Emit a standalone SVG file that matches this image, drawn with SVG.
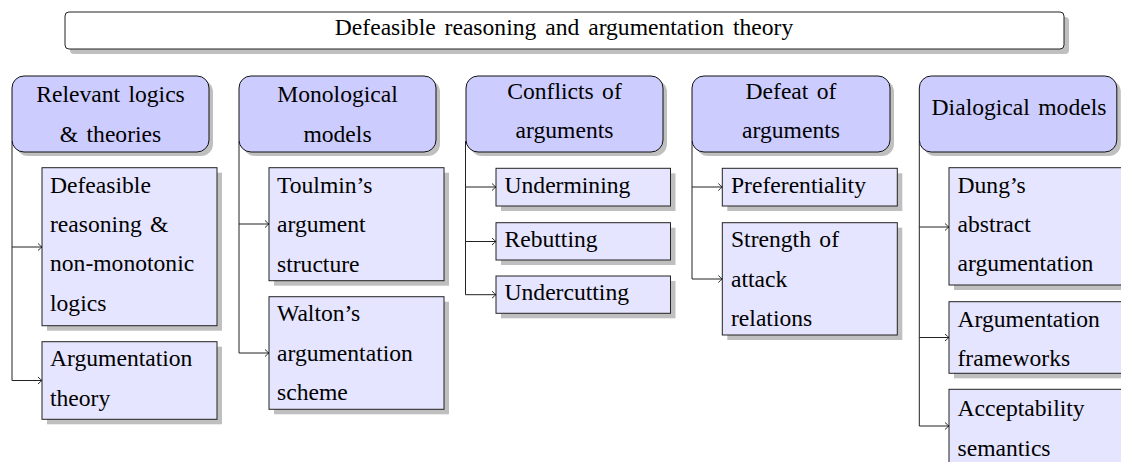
<svg xmlns="http://www.w3.org/2000/svg" width="1121" height="462" viewBox="0 0 1121 462" font-family="'Liberation Serif', 'Times New Roman', serif">
<defs>
<marker id="arr" viewBox="-6 -5 8 10" refX="0" refY="0" markerWidth="8" markerHeight="10" markerUnits="userSpaceOnUse" orient="auto">
<path d="M-4,-3.5 Q-1.2,-0.8 0,0 Q-1.2,0.8 -4,3.5" fill="none" stroke="#111" stroke-width="0.9"/>
</marker>
</defs>
<style>
text{font-family:'Liberation Serif','Times New Roman',serif;font-size:23.6px;fill:#000;word-spacing:2.5px}
.title{word-spacing:3px}
.mid{text-anchor:middle}
.sh{fill:#bfbfbf}
.tbox{fill:#fff;stroke:#222;stroke-width:1}
.cat{fill:#ccccff;stroke:#111;stroke-width:1}
.item{fill:#e5e5ff;stroke:#222;stroke-width:1}
.conn{fill:none;stroke:#222;stroke-width:1}
</style>
<rect width="1121" height="462" fill="#fff"/>

<g id="title">
<rect class="sh" x="70" y="17" width="999" height="37" rx="4"/>
<rect class="tbox" x="65" y="12" width="999" height="37" rx="4"/>
<text class="mid title" x="564" y="35">Defeasible reasoning and argumentation theory</text>
</g>

<g id="connectors">
<path class="conn" d="M12,141 V380.5"/>
<path class="conn" d="M12,247 H42" marker-end="url(#arr)"/>
<path class="conn" d="M12,380.5 H42" marker-end="url(#arr)"/>
<path class="conn" d="M239,141 V353"/>
<path class="conn" d="M239,224 H269" marker-end="url(#arr)"/>
<path class="conn" d="M239,353 H269" marker-end="url(#arr)"/>
<path class="conn" d="M465.5,141 V294.7"/>
<path class="conn" d="M465.5,187 H496" marker-end="url(#arr)"/>
<path class="conn" d="M465.5,241.5 H496" marker-end="url(#arr)"/>
<path class="conn" d="M465.5,294.7 H496" marker-end="url(#arr)"/>
<path class="conn" d="M692,141 V279"/>
<path class="conn" d="M692,187 H722.3" marker-end="url(#arr)"/>
<path class="conn" d="M692,279 H722.3" marker-end="url(#arr)"/>
<path class="conn" d="M919.3,141 V426"/>
<path class="conn" d="M919.3,227 H949" marker-end="url(#arr)"/>
<path class="conn" d="M919.3,337.5 H949" marker-end="url(#arr)"/>
<path class="conn" d="M919.3,426 H949" marker-end="url(#arr)"/>
</g>

<g id="relevant-logics">
<rect class="sh" x="16" y="80" width="197" height="76" rx="12"/>
<rect class="cat" x="12" y="76" width="197" height="76" rx="12"/>
<text class="mid" x="110.5" y="102.3">Relevant logics</text>
<text class="mid" x="110.5" y="141.7">&amp; theories</text>
</g>
<g id="defeasible-reasoning">
<rect class="sh" x="47" y="172.7" width="175" height="158"/>
<rect class="item" x="42" y="167.7" width="175" height="158"/>
<text x="50" y="192.7">Defeasible</text>
<text x="50" y="232">reasoning &amp;</text>
<text x="50" y="271.3">non-monotonic</text>
<text x="50" y="310.8">logics</text>
</g>
<g id="argumentation-theory">
<rect class="sh" x="47" y="346.7" width="175" height="77.6"/>
<rect class="item" x="42" y="341.7" width="175" height="77.6"/>
<text x="50" y="366.2">Argumentation</text>
<text x="50" y="405.5">theory</text>
</g>

<g id="monological-models">
<rect class="sh" x="243" y="80" width="197" height="76" rx="12"/>
<rect class="cat" x="239" y="76" width="197" height="76" rx="12"/>
<text class="mid" x="337.5" y="102.3">Monological</text>
<text class="mid" x="337.5" y="141.7">models</text>
</g>
<g id="toulmin">
<rect class="sh" x="274" y="172.7" width="175" height="113"/>
<rect class="item" x="269" y="167.7" width="175" height="113"/>
<text x="277" y="192.7">Toulmin’s</text>
<text x="277" y="232">argument</text>
<text x="277" y="271.5">structure</text>
</g>
<g id="walton">
<rect class="sh" x="274" y="301.7" width="175" height="112.6"/>
<rect class="item" x="269" y="296.7" width="175" height="112.6"/>
<text x="277" y="321.2">Walton’s</text>
<text x="277" y="360.5">argumentation</text>
<text x="277" y="400">scheme</text>
</g>

<g id="conflicts-of-arguments">
<rect class="sh" x="470" y="80" width="197" height="76" rx="12"/>
<rect class="cat" x="466" y="76" width="197" height="76" rx="12"/>
<text class="mid" x="564.5" y="99">Conflicts of</text>
<text class="mid" x="564.5" y="138.3">arguments</text>
</g>
<g id="undermining">
<rect class="sh" x="501" y="173.3" width="174.5" height="37.7"/>
<rect class="item" x="496" y="168.3" width="174.5" height="37.7"/>
<text x="504.5" y="193.3">Undermining</text>
</g>
<g id="rebutting">
<rect class="sh" x="501" y="227.7" width="174.5" height="37.3"/>
<rect class="item" x="496" y="222.7" width="174.5" height="37.3"/>
<text x="504.5" y="247">Rebutting</text>
</g>
<g id="undercutting">
<rect class="sh" x="501" y="281" width="174.5" height="37.3"/>
<rect class="item" x="496" y="276" width="174.5" height="37.3"/>
<text x="504.5" y="300.3">Undercutting</text>
</g>

<g id="defeat-of-arguments">
<rect class="sh" x="696" y="80" width="198" height="76" rx="12"/>
<rect class="cat" x="692" y="76" width="198" height="76" rx="12"/>
<text class="mid" x="791" y="99">Defeat of</text>
<text class="mid" x="791" y="138.3">arguments</text>
</g>
<g id="preferentiality">
<rect class="sh" x="727.3" y="173.3" width="175" height="37.7"/>
<rect class="item" x="722.3" y="168.3" width="175" height="37.7"/>
<text x="731" y="193.3">Preferentiality</text>
</g>
<g id="strength-of-attack">
<rect class="sh" x="727.3" y="227.7" width="175" height="112.3"/>
<rect class="item" x="722.3" y="222.7" width="175" height="112.3"/>
<text x="731" y="247">Strength of</text>
<text x="731" y="286.5">attack</text>
<text x="731" y="326.3">relations</text>
</g>

<g id="dialogical-models">
<rect class="sh" x="923.3" y="80" width="197.5" height="76" rx="12"/>
<rect class="cat" x="919.3" y="76" width="197.5" height="76" rx="12"/>
<text class="mid" x="1019" y="115">Dialogical models</text>
</g>
<g id="dung">
<rect class="sh" x="954" y="172.7" width="175" height="117.3"/>
<rect class="item" x="949" y="167.7" width="175" height="117.3"/>
<text x="957.5" y="192.7">Dung’s</text>
<text x="957.5" y="232">abstract</text>
<text x="957.5" y="271">argumentation</text>
</g>
<g id="argumentation-frameworks">
<rect class="sh" x="954" y="306.7" width="175" height="71.6"/>
<rect class="item" x="949" y="301.7" width="175" height="71.6"/>
<text x="957.5" y="326.7">Argumentation</text>
<text x="957.5" y="366">frameworks</text>
</g>
<g id="acceptability-semantics">
<rect class="sh" x="954" y="394.3" width="175" height="74"/>
<rect class="item" x="949" y="389.3" width="175" height="74"/>
<text x="957.5" y="415.5">Acceptability</text>
<text x="957.5" y="455.5">semantics</text>
</g>
</svg>
